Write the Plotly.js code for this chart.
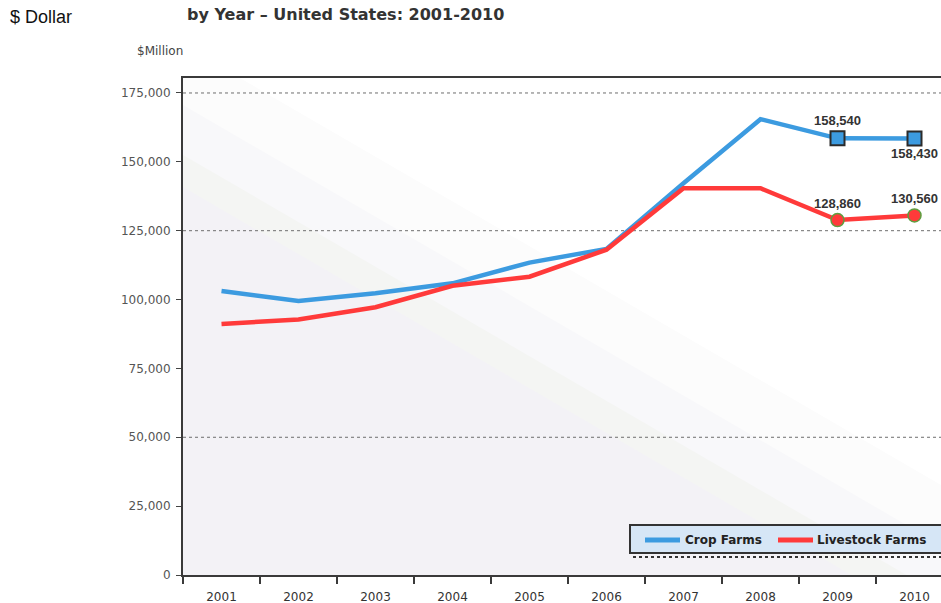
<!DOCTYPE html>
<html>
<head>
<meta charset="utf-8">
<script src="https://cdn.plot.ly/plotly-3.0.1.min.js"></script>
<style>
html,body{margin:0;padding:0;background:#fff;overflow:hidden;}
#chart{width:941px;height:603px;}
</style>
</head>
<body>
<div id="chart"></div>
<script>
// ---- data ----
const years = ['2001','2002','2003','2004','2005','2006','2007','2008','2009','2010'];
const seriesNames = ['Crop Farms', 'Livestock Farms'];
const cropFarms = [103100, 99500, 102300, 105900, 113400, 118400, 142200, 165500, 158540, 158430];
const livestockFarms = [91100, 92800, 97200, 105000, 108300, 118100, 140400, 140400, 128860, 130560];
const labelledYears = ['2009','2010'];
const gridValues = [50000, 125000, 175000];
const yTicks = [0, 25000, 50000, 75000, 100000, 125000, 150000, 175000];

// ---- layout constants ----
const W = 941, H = 603, L = 183, T = 78, B = 28;
const PW = W - L, PH = H - T - B;
const BOTTOM = H - B;
function px2x(x){ return (x - L) / PW; }
function px2y(y){ return (BOTTOM - y) / PH; }

const blue = '#3c9be0', red = '#ff3a3a';
const seriesColors = [blue, red];

// diagonal background bands (pixel y at left edge, pixel y at right edge)
const bands = [
  {l: 45,  r: 485, c: '#fcfcfc'},
  {l: 105, r: 545, c: '#f8f8fa'},
  {l: 155, r: 595, c: '#f4f5f3'},
  {l: 187, r: 627, c: '#f3f2f6'}
];
function clipBelow(yl, yr){
  const f = p => (yl + (yr - yl) * p[0]) - p[1];
  const rect = [[0,0],[1,0],[1,1],[0,1]];
  const out = [];
  for (let i = 0; i < rect.length; i++){
    const a = rect[i], b = rect[(i+1) % rect.length];
    const fa = f(a), fb = f(b);
    if (fa >= 0) out.push(a);
    if ((fa >= 0) !== (fb >= 0)){
      const t = fa / (fa - fb);
      out.push([a[0] + t*(b[0]-a[0]), a[1] + t*(b[1]-a[1])]);
    }
  }
  return out;
}
const shapes = [];
bands.forEach(bd => {
  const poly = clipBelow(px2y(bd.l), px2y(bd.r));
  if (poly.length < 3) return;
  const path = 'M' + poly.map(p => p[0].toFixed(5) + ',' + p[1].toFixed(5)).join('L') + 'Z';
  shapes.push({type:'path', xref:'paper', yref:'paper', path: path,
    fillcolor: bd.c, line:{width:0}, layer:'below'});
});
gridValues.forEach(v => {
  shapes.push({type:'line', xref:'paper', yref:'y', x0:0, x1:1, y0:v, y1:v,
    line:{color:'#6e6e6e', width:1, dash:'dot'}, layer:'below'});
});

// ---- legend box (drawn by hand so it can run off the right edge like the reference) ----
const LEG = {x0: 630, y0: 525, x1: 950, y1: 553};
shapes.push({type:'rect', xref:'paper', yref:'paper', x0:px2x(LEG.x0), x1:px2x(LEG.x1),
  y0:px2y(LEG.y1), y1:px2y(LEG.y0), fillcolor:'#d6e6f6', line:{color:'#333', width:2}});
shapes.push({type:'line', xref:'paper', yref:'paper', x0:px2x(633), x1:1.01, y0:px2y(557), y1:px2y(557),
  line:{color:'#333', width:2, dash:'dot'}});
const legendItems = [{sx:645, tx:683}, {sx:778, tx:815}];
const legendAnn = [];
legendItems.forEach((it, i) => {
  const ym = (LEG.y0 + LEG.y1) / 2 + 1;
  shapes.push({type:'line', xref:'paper', yref:'paper', x0:px2x(it.sx), x1:px2x(it.sx + 35),
    y0:px2y(ym), y1:px2y(ym), line:{color: seriesColors[i], width:5}});
  legendAnn.push({text: seriesNames[i], xref:'paper', yref:'paper', x:px2x(it.tx), y:px2y(ym),
    xanchor:'left', yanchor:'middle', showarrow:false,
    font:{family:'DejaVu Sans, Verdana', size:12, color:'#222', weight:'bold'}});
});

const lastIdx = labelledYears.map(y => years.indexOf(y));
const fmt = v => v.toLocaleString('en-US');

const labelFont = {family:'Liberation Sans, Arial', size:13, color:'#333', weight:'bold'};
const traces = [
  {x: years, y: cropFarms, name: seriesNames[0], type:'scatter', mode:'lines',
   line:{color: blue, width: 4.5}, hoverinfo:'skip'},
  {x: years, y: livestockFarms, name: seriesNames[1], type:'scatter', mode:'lines',
   line:{color: red, width: 4.5}, hoverinfo:'skip'},
  {x: lastIdx.map(i => years[i]), y: lastIdx.map(i => cropFarms[i]), type:'scatter',
   mode:'markers+text', text: lastIdx.map(i => fmt(cropFarms[i])),
   textposition:['top center','bottom center'], textfont: labelFont,
   marker:{symbol:'square', size:14, color: blue, line:{color:'#2b2b2b', width:2}}, cliponaxis:false},
  {x: lastIdx.map(i => years[i]), y: lastIdx.map(i => livestockFarms[i]), type:'scatter',
   mode:'markers+text', text: lastIdx.map(i => fmt(livestockFarms[i])),
   textposition:['top center','top center'], textfont: labelFont,
   marker:{symbol:'circle', size:13, color: red, line:{color:'#5f9e3f', width:1.5}}, cliponaxis:false}
];

const layout = {
  width: W, height: H,
  margin: {l: L, r: 0, t: T, b: B, pad: 0, autoexpand: false},
  paper_bgcolor: '#ffffff', plot_bgcolor: '#ffffff',
  font: {family: 'DejaVu Sans, Verdana, sans-serif', color: '#444'},
  showlegend: false,
  xaxis: {type:'category', range:[-0.5, -0.5 + PW/77], showgrid:false, zeroline:false,
    showline:true, linecolor:'#3a3a3a', linewidth:2, mirror:true,
    ticks:'outside', tickson:'boundaries', ticklen:7, tickcolor:'#3a3a3a', tickwidth:2,
    tickfont:{size:12, color:'#333'}, ticklabelstandoff:10, fixedrange:true},
  yaxis: {range:[0, (BOTTOM - T) / 68.86 * 25000], tickvals: yTicks, tickformat:',d',
    showgrid:false, zeroline:false, showline:true, linecolor:'#3a3a3a', linewidth:2,
    ticks:'outside', ticklen:5, tickcolor:'#444', tickwidth:1,
    tickfont:{size:12, color:'#555'}, ticklabelstandoff:3, fixedrange:true},
  shapes: shapes,
  annotations: [
    {text:'$ Dollar', xref:'paper', yref:'paper', x:px2x(8), y:px2y(17), xanchor:'left', yanchor:'middle',
     showarrow:false, font:{family:'Liberation Sans, Arial', size:18, color:'#111'}},
    {text:'by Year – United States: 2001-2010', xref:'paper', yref:'paper', x:px2x(185), y:px2y(14),
     xanchor:'left', yanchor:'middle', showarrow:false,
     font:{family:'DejaVu Sans, Verdana', size:16, color:'#333', weight:'bold'}},
    {text:'$Million', xref:'paper', yref:'paper', x:px2x(160), y:px2y(51), xanchor:'center', yanchor:'middle',
     showarrow:false, font:{size:12, color:'#444'}}
  ].concat(legendAnn)
};

Plotly.newPlot('chart', traces, layout, {displayModeBar:false, staticPlot:true});
</script>
</body>
</html>
